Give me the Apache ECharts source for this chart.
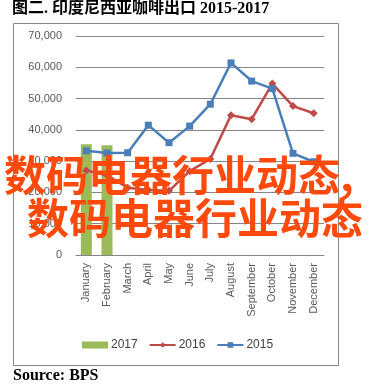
<!DOCTYPE html>
<html><head><meta charset="utf-8">
<script src="https://cdn.jsdelivr.net/npm/echarts@6/dist/echarts.min.js"></script>
<style>html,body{margin:0;padding:0;background:#fff}#c{width:389px;height:388px}</style>
</head><body><div id="c"></div>
<script>
var months = ['January','February','March','April','May','June','July','August','September','October','November','December'];
var s2017 = [35400, 35100, null, null, null, null, null, null, null, null, null, null];
var s2016 = [27000, 25500, 21500, 20800, 20500, 26800, 30700, 44700, 43400, 54800, 47600, 45300];
var s2015 = [33300, 32600, 32700, 41500, 35900, 41200, 48200, 61400, 55600, 53200, 32500, 29800];
var yTicks = {min: 0, max: 70000, interval: 10000};

var chart = echarts.init(document.getElementById('c'));
chart.setOption({
  animation: false,
  grid: {left: 76, right: 65, top: 36, bottom: 133},
  legend: {
    top: 339, left: 82, padding: 0, itemGap: 11, itemWidth: 26, itemHeight: 7,
    textStyle: {color: '#404040', fontSize: 12, fontFamily: 'Liberation Sans, Arial, sans-serif', padding: [0, 0, 0, -2]},
    data: [{name: '2017', icon: 'rect'}, {name: '2016'}, {name: '2015'}]
  },
  xAxis: {
    type: 'category', data: months,
    axisLine: {lineStyle: {color: '#868686'}},
    axisTick: {show: false},
    axisLabel: {rotate: 90, interval: 0, color: '#595959', fontSize: 11, fontFamily: 'Liberation Sans, Arial, sans-serif', margin: 8}
  },
  yAxis: {
    type: 'value', min: yTicks.min, max: yTicks.max, interval: yTicks.interval,
    axisLine: {show: false}, axisTick: {show: false},
    splitLine: {lineStyle: {color: '#868686'}},
    axisLabel: {color: '#595959', fontSize: 11, fontFamily: 'Liberation Sans, Arial, sans-serif', margin: 14,
      formatter: function (v) { return v.toLocaleString('en-US'); }}
  },
  series: [
    {name: '2017', type: 'bar', data: s2017, barWidth: 11, barGap: '-100%', itemStyle: {color: '#9bbb59'}},
    {name: '2016', type: 'line', data: s2016, symbol: 'diamond', symbolSize: 8,
      lineStyle: {color: '#be4b48', width: 2.5}, itemStyle: {color: '#be4b48'}},
    {name: '2015', type: 'line', data: s2015, symbol: 'rect', symbolSize: 7,
      lineStyle: {color: '#4a7ebb', width: 2.5}, itemStyle: {color: '#4a7ebb'}}
  ],
  graphic: [
    {type: 'rect', shape: {x: 13.5, y: 23.5, width: 325, height: 342}, style: {fill: null, stroke: '#868686', lineWidth: 1}, z: -1},
    {type: 'text', left: 12, top: 1, style: {text: '图二. 印度尼西亚咖啡出口 2015-2017', fill: '#000', font: 'bold 16px "Liberation Serif", "Noto Sans CJK SC", serif'}},
    {type: 'text', left: 13, top: 368, style: {text: 'Source: BPS', fill: '#000', font: 'bold 16px "Liberation Serif", "Times New Roman", serif'}},
    {type: 'text', left: 4, top: 154, z: 100, style: {text: '数码电器行业动态,', fill: '#ff4a0c', font: 'bold 42px "Noto Sans CJK SC", sans-serif'}},
    {type: 'text', left: 27, top: 197, z: 100, style: {text: '数码电器行业动态', fill: '#ff4a0c', font: 'bold 42px "Noto Sans CJK SC", sans-serif'}}
  ]
});
</script></body></html>
